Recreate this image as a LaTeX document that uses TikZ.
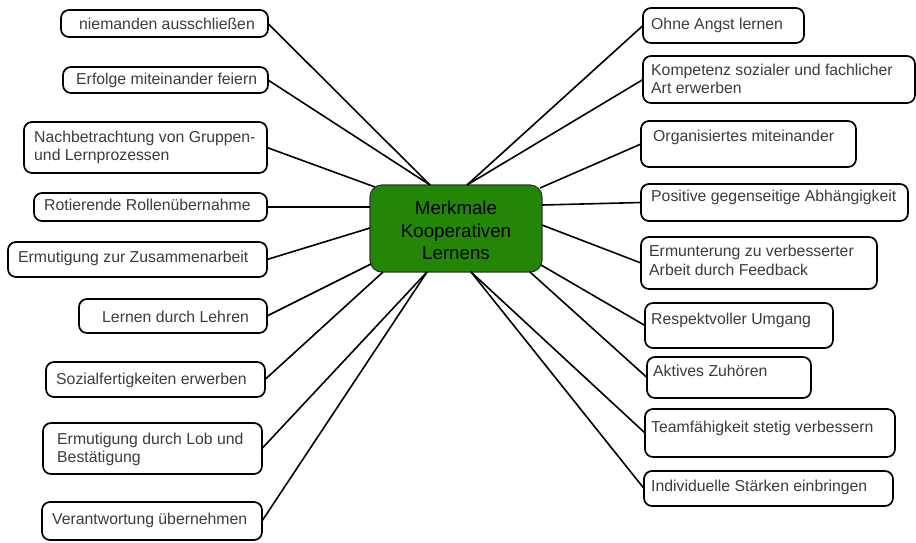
\documentclass[tikz,border=0pt]{standalone}
\usepackage{fontspec}
\setmainfont{Liberation Sans}
\definecolor{cgreen}{RGB}{36,134,6}
\definecolor{tgray}{RGB}{60,60,60}
\tikzset{
  box/.style={draw=black, line width=1.7pt, rounded corners=8pt, fill=white, inner sep=0pt, outer sep=0pt, anchor=north west},
  hub/.style={draw=black!80, line width=1.2pt, rounded corners=12pt, fill=cgreen, inner sep=0pt, outer sep=0pt, anchor=north west},
  lbl/.style={text=tgray, anchor=west, inner sep=0pt, align=left, font=\fontsize{15.8}{18.5}\selectfont},
  hubtxt/.style={text=black, inner sep=0pt, align=center, font=\fontsize{18.7}{22.5}\selectfont},
  con/.style={draw=black, line width=1.6pt}
}
\newcommand{\mybox}[5]{%
  \node[box, minimum width=#4-#2, minimum height=#5-#3] (#1) at (#2,#3) {};
}
\begin{document}
\begin{tikzpicture}[x=1pt,y=-1pt]
\useasboundingbox (0,0) rectangle (916,542);
% center
\node[hub, minimum width=172, minimum height=87] (c) at (370,185) {};
\node[hubtxt] (ctext) at (456,230.5) {Merkmale\\Kooperativen\\Lernens};
% connector ends on hub
\coordinate (cL12) at (430,185);
\coordinate (cL3) at (375,187);
\coordinate (cL4) at (370,207);
\coordinate (cL5) at (370,228);
\coordinate (cL6) at (371,264);
\coordinate (cL7) at (383,272);
\coordinate (cL89) at (427,272);
\coordinate (cR12) at (467,185);
\coordinate (cR3) at (540,188);
\coordinate (cR4) at (542,205);
\coordinate (cR5) at (542,225);
\coordinate (cR6) at (541,265);
\coordinate (cR7) at (530,272);
\coordinate (cR89) at (471,272);
% left boxes
\mybox{L1}{61}{10}{268}{37}
\mybox{L2}{63}{67}{268}{93}
\mybox{L3}{24}{122}{267}{173}
\mybox{L4}{34}{193}{267}{221}
\mybox{L5}{8}{242}{267}{277}
\mybox{L6}{79}{299}{267}{333}
\mybox{L7}{46}{362}{265}{397}
\mybox{L8}{43}{423}{262}{474}
\mybox{L9}{42}{502}{262}{540}
% right boxes
\mybox{R1}{643}{8}{804}{43}
\mybox{R2}{643}{56}{915}{103}
\mybox{R3}{641}{121}{856}{167}
\mybox{R4}{641}{184}{908}{221}
\mybox{R5}{641}{237}{877}{289}
\mybox{R6}{645}{303}{833}{348}
\mybox{R7}{647}{357}{811}{398}
\mybox{R8}{645}{409}{895}{457}
\mybox{R9}{644}{471}{893}{506}
% labels
\node[lbl] (tL1) at (79,24) {niemanden ausschließen};
\node[lbl] (tL2) at (76,80) {Erfolge miteinander feiern};
\node[lbl] (tL3) at (34,147.5) {Nachbetrachtung von Gruppen-\\und Lernprozessen};
\node[lbl] (tL4) at (44,205) {Rotierende Rollenübernahme};
\node[lbl] (tL5) at (18,258) {Ermutigung zur Zusammenarbeit};
\node[lbl] (tL6) at (102,317) {Lernen durch Lehren};
\node[lbl] (tL7) at (56,380) {Sozialfertigkeiten erwerben};
\node[lbl] (tL8) at (57,449.5) {Ermutigung durch Lob und\\Bestätigung};
\node[lbl] (tL9) at (52,520) {Verantwortung übernehmen};
\node[lbl] (tR1) at (651,25) {Ohne Angst lernen};
\node[lbl] (tR2) at (651,79) {Kompetenz sozialer und fachlicher\\Art erwerben};
\node[lbl] (tR3) at (653,137) {Organisiertes miteinander};
\node[lbl] (tR4) at (651,197) {Positive gegenseitige Abhängigkeit};
\node[lbl] (tR5) at (649,260.5) {Ermunterung zu verbesserter\\Arbeit durch Feedback};
\node[lbl] (tR6) at (651,320) {Respektvoller Umgang};
\node[lbl] (tR7) at (653,371) {Aktives Zuhören};
\node[lbl] (tR8) at (651,428) {Teamfähigkeit stetig verbessern};
\node[lbl] (tR9) at (651,487) {Individuelle Stärken einbringen};
% connectors
\draw[con] (L1.east) -- (cL12);
\draw[con] (L2.east) -- (cL12);
\draw[con] (L3.east) -- (cL3);
\draw[con] (L4.east) -- (cL4);
\draw[con] (L5.east) -- (cL5);
\draw[con] (L6.east) -- (cL6);
\draw[con] (L7.east) -- (cL7);
\draw[con] (L8.east) -- (cL89);
\draw[con] (L9.east) -- (cL89);
\draw[con] (R1.west) -- (cR12);
\draw[con] (R2.west) -- (cR12);
\draw[con] (R3.west) -- (cR3);
\draw[con] (R4.west) -- (cR4);
\draw[con] (R5.west) -- (cR5);
\draw[con] (R6.west) -- (cR6);
\draw[con] (R7.west) -- (cR7);
\draw[con] (R8.west) -- (cR89);
\draw[con] (R9.west) -- (cR89);
\end{tikzpicture}
\end{document}
